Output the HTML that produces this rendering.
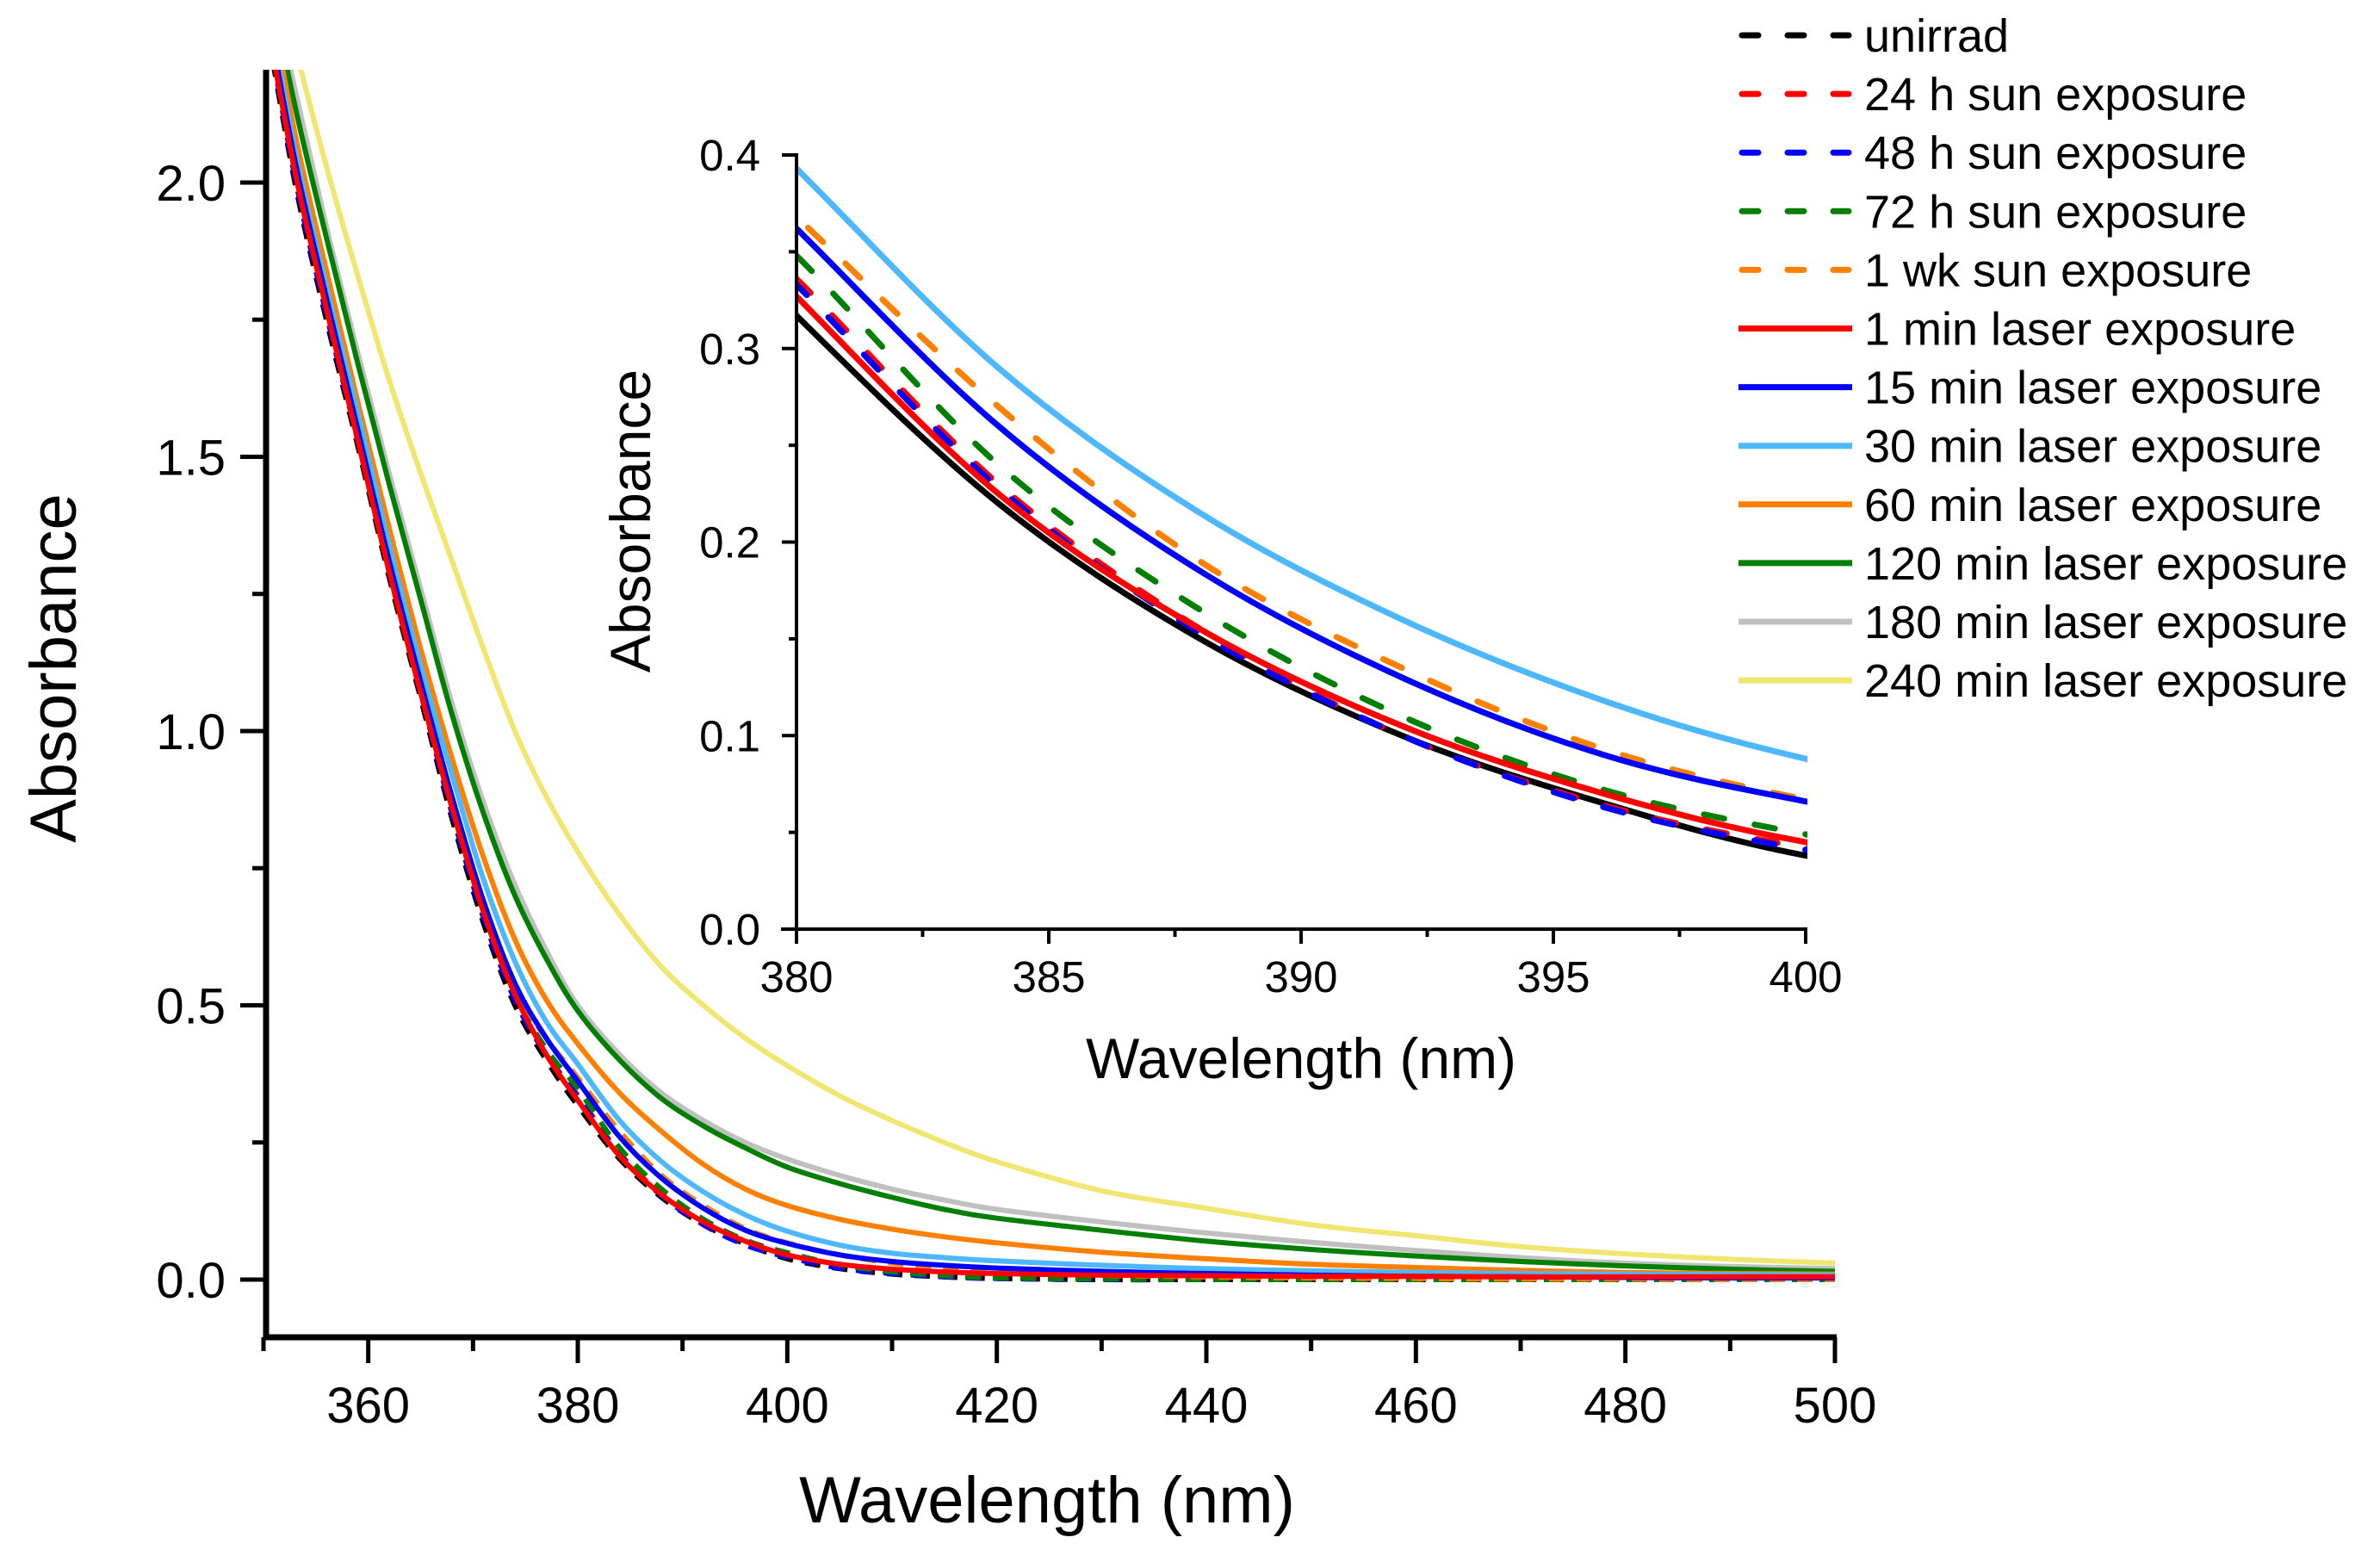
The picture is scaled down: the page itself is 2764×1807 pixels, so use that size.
<!DOCTYPE html>
<html><head><meta charset="utf-8"><style>
html,body{margin:0;padding:0;background:#fff;}
svg{display:block;font-family:"Liberation Sans",Arial,sans-serif;}
</style></head><body>
<svg id="chart" width="2764" height="1807" viewBox="0 0 2764 1807" xmlns="http://www.w3.org/2000/svg">
<defs>
<clipPath id="mainClip"><rect x="309" y="81" width="1823" height="1469"/></clipPath>
<clipPath id="insetClip"><rect x="927" y="150" width="1172" height="927"/></clipPath>
</defs>
<g id="mainAxes"></g>
<g id="mainPlot" clip-path="url(#mainClip)"></g>
<g id="insetAxes"></g>
<g id="insetPlot" clip-path="url(#insetClip)"></g>
<g id="legend"></g>
</svg>
<script>
const wavelengths = [350,353,356,359,362,365,368,371,374,377,380,384,388,392,396,400,405,410,415,420,430,440,450,460,470,480,490,500];
const seriesNames = ["unirrad","24 h sun exposure","48 h sun exposure","72 h sun exposure","1 wk sun exposure","1 min laser exposure","15 min laser exposure","30 min laser exposure","60 min laser exposure","120 min laser exposure","180 min laser exposure","240 min laser exposure"];
const seriesColors = ["#000000","#ff0000","#0000ff","#007f00","#ff8000","#ff0000","#0000ff","#4db8ff","#ff8000","#007f00","#c0c0c0","#f0e670"];
const seriesDashed = [true,true,true,true,true,false,false,false,false,false,false,false];
const seriesInInset = [true,true,true,true,true,true,true,true,false,false,false,false];
const unirrad = [2.32,2.0,1.75,1.52,1.28,1.06,0.84,0.65,0.5,0.4,0.317,0.22,0.15,0.1,0.065,0.038,0.02,0.01,0.005,0.002,0,0,0,0,0,0,0,0];
const sun24h = [2.33,2.02,1.77,1.53,1.29,1.07,0.86,0.67,0.51,0.41,0.336,0.23,0.155,0.1,0.064,0.042,0.022,0.012,0.006,0.003,0.001,0,0,0,0,0,0,0];
const sun48h = [2.33,2.01,1.76,1.53,1.29,1.07,0.85,0.66,0.51,0.41,0.333,0.228,0.153,0.1,0.063,0.041,0.021,0.011,0.005,0.002,0,0,0,0,0,0,0,0];
const sun72h = [2.34,2.03,1.78,1.54,1.30,1.08,0.86,0.67,0.52,0.42,0.348,0.24,0.165,0.11,0.072,0.049,0.027,0.014,0.007,0.003,0.001,0,0,0,0,0,0,0];
const sun1wk = [2.35,2.04,1.79,1.55,1.31,1.09,0.87,0.68,0.53,0.44,0.368,0.27,0.19,0.135,0.093,0.067,0.045,0.03,0.02,0.014,0.008,0.005,0.003,0.002,0.001,0.001,0,0];
const laser1 = [2.33,2.02,1.77,1.53,1.29,1.07,0.86,0.67,0.52,0.41,0.327,0.225,0.155,0.105,0.07,0.045,0.028,0.019,0.014,0.011,0.008,0.007,0.006,0.006,0.005,0.005,0.005,0.005];
const laser15 = [2.35,2.04,1.79,1.55,1.31,1.09,0.88,0.69,0.54,0.44,0.362,0.26,0.185,0.13,0.09,0.066,0.045,0.033,0.026,0.021,0.015,0.011,0.008,0.006,0.005,0.004,0.003,0.003];
const laser30 = [2.37,2.06,1.81,1.58,1.34,1.12,0.92,0.73,0.58,0.47,0.393,0.29,0.215,0.16,0.118,0.088,0.063,0.048,0.04,0.034,0.026,0.02,0.016,0.013,0.011,0.01,0.009,0.008];
const laser60 = [2.4,2.09,1.84,1.6,1.37,1.15,0.95,0.77,0.62,0.51,0.43,0.34,0.27,0.21,0.165,0.135,0.11,0.092,0.078,0.067,0.05,0.038,0.028,0.022,0.017,0.013,0.011,0.01];
const laser120 = [2.42,2.14,1.9,1.67,1.45,1.24,1.03,0.85,0.7,0.585,0.49,0.4,0.33,0.28,0.24,0.205,0.175,0.15,0.128,0.112,0.09,0.07,0.055,0.043,0.033,0.025,0.019,0.015];
const laser180 = [2.44,2.17,1.92,1.69,1.47,1.26,1.05,0.87,0.72,0.6,0.5,0.41,0.34,0.29,0.25,0.22,0.19,0.165,0.145,0.128,0.105,0.085,0.068,0.053,0.04,0.03,0.024,0.02];
const laser240 = [2.5,2.25,2.03,1.83,1.64,1.47,1.31,1.15,1.0,0.88,0.78,0.665,0.57,0.5,0.44,0.39,0.335,0.29,0.25,0.215,0.162,0.13,0.1,0.08,0.06,0.047,0.037,0.03];
const seriesValues = [unirrad,sun24h,sun48h,sun72h,sun1wk,laser1,laser15,laser30,laser60,laser120,laser180,laser240];
const mainXTicks = [360,380,400,420,440,460,480,500];
const mainYTicks = [0.0,0.5,1.0,1.5,2.0];
const insetXTicks = [380,385,390,395,400];
const insetYTicks = [0.0,0.1,0.2,0.3,0.4];

const NS = "http://www.w3.org/2000/svg";
function mk(tag, attrs, parent){const e=document.createElementNS(NS,tag);for(const k in attrs)e.setAttribute(k,attrs[k]);parent.appendChild(e);return e;}

const mx = v => 306 + (v-350)*(2131-306)/150;
const my = v => 1486 - v*637;
const ix = v => 925 + (v-380)*(2097-925)/20;
const iy = v => 1079 - v*(1079-180)/0.4;

function pathFor(xs, ys, sx, sy){
  const pts=[];
  for(let i=0;i<xs.length;i++) pts.push([sx(xs[i]),sy(ys[i])]);
  let d="M"+pts[0][0].toFixed(1)+","+pts[0][1].toFixed(1);
  for(let i=0;i<pts.length-1;i++){
    const p0=pts[Math.max(0,i-1)],p1=pts[i],p2=pts[i+1],p3=pts[Math.min(pts.length-1,i+2)];
    const c1x=p1[0]+(p2[0]-p0[0])/6,c1y=p1[1]+(p2[1]-p0[1])/6;
    const c2x=p2[0]-(p3[0]-p1[0])/6,c2y=p2[1]-(p3[1]-p1[1])/6;
    d+=" C"+c1x.toFixed(1)+","+c1y.toFixed(1)+" "+c2x.toFixed(1)+","+c2y.toFixed(1)+" "+p2[0].toFixed(1)+","+p2[1].toFixed(1);
  }
  return d;
}

const drawOrder=[0,1,2,3,4,11,10,9,8,7,6,5];
const mainPlot=document.getElementById("mainPlot");
const insetPlot=document.getElementById("insetPlot");
for(const i of drawOrder){
  const p=mk("path",{d:pathFor(wavelengths,seriesValues[i],mx,my),fill:"none",stroke:seriesColors[i],"stroke-width":6,"stroke-linejoin":"round"},mainPlot);
  if(seriesDashed[i]){p.setAttribute("stroke-dasharray","18 14");}
  
  
  if(!seriesInInset[i]) continue;
  const q=mk("path",{d:pathFor(wavelengths,seriesValues[i],ix,iy),fill:"none",stroke:seriesColors[i],"stroke-width":7,"stroke-linejoin":"round","stroke-linecap":"round"},insetPlot);
  if(seriesDashed[i] && i!==0){q.setAttribute("stroke-dasharray","24 36");}
  
  
}

const ma=document.getElementById("mainAxes");
const yAxis=mk("line",{x1:309,y1:81,x2:309,y2:1556,stroke:"#000","stroke-width":7},ma);


const xAxis=mk("line",{x1:306,y1:1553,x2:2133,y2:1553,stroke:"#000","stroke-width":7},ma);


for(let v=350;v<=500;v+=10){
  const major=(v%20===0);
  mk("line",{x1:mx(v),y1:1553,x2:mx(v),y2:1553+(major?30:16),stroke:"#000","stroke-width":5},ma);
}
for(const v of mainXTicks){
  const t=mk("text",{x:mx(v),y:1652,"font-size":58,"text-anchor":"middle",fill:"#000"},ma);
  t.textContent=String(v);
  
  
}
for(let k=0;k<=8;k++){
  const v=k*0.25;const major=(k%2===0);
  mk("line",{x1:309,y1:my(v),x2:309-(major?30:16),y2:my(v),stroke:"#000","stroke-width":5},ma);
}
for(const v of mainYTicks){
  const t=mk("text",{x:262,y:my(v)+21,"font-size":58,"text-anchor":"end",fill:"#000"},ma);
  t.textContent=v.toFixed(1);
  
  
}
const mxt=mk("text",{x:1216,y:1768,"font-size":76,"text-anchor":"middle",fill:"#000"},ma);
mxt.textContent="Wavelength (nm)";


const myt=mk("text",{x:0,y:0,"font-size":76,"text-anchor":"middle",fill:"#000",transform:"translate(88,776) rotate(-90)"},ma);
myt.textContent="Absorbance";



const ia=document.getElementById("insetAxes");
const iyAxis=mk("line",{x1:925,y1:178,x2:925,y2:1081,stroke:"#000","stroke-width":4},ia);


const ixAxis=mk("line",{x1:907,y1:1079,x2:2099,y2:1079,stroke:"#000","stroke-width":4},ia);


for(let k=0;k<=8;k++){
  const v=380+k*2.5;const major=(k%2===0);
  mk("line",{x1:ix(v),y1:1079,x2:ix(v),y2:1079+(major?17:9),stroke:"#000","stroke-width":4},ia);
}
for(let k=0;k<=8;k++){
  const v=k*0.05;const major=(k%2===0);
  mk("line",{x1:925,y1:iy(v),x2:925-(major?17:9),y2:iy(v),stroke:"#000","stroke-width":4},ia);
}
for(const v of insetXTicks){
  const t=mk("text",{x:ix(v),y:1152,"font-size":51,"text-anchor":"middle",fill:"#000"},ia);
  t.textContent=String(v);
  
  
}
for(const v of insetYTicks){
  const t=mk("text",{x:883,y:iy(v)+18,"font-size":51,"text-anchor":"end",fill:"#000"},ia);
  t.textContent=v.toFixed(1);
  
  
}
const ixt=mk("text",{x:1511,y:1252,"font-size":66,"text-anchor":"middle",fill:"#000"},ia);
ixt.textContent="Wavelength (nm)";


const iyt=mk("text",{x:0,y:0,"font-size":66,"text-anchor":"middle",fill:"#000",transform:"translate(755,605) rotate(-90)"},ia);
iyt.textContent="Absorbance";



const lg=document.getElementById("legend");
for(let i=0;i<seriesNames.length;i++){
  const cy=41+i*68.1;
  const g=mk("g",{},lg);
  
  
  const l=mk("line",{x1:seriesDashed[i]?2023:2019,y1:cy,x2:seriesDashed[i]?2147:2151,y2:cy,stroke:seriesColors[i],"stroke-width":7,"stroke-linecap":seriesDashed[i]?"round":"butt"},g);
  if(seriesDashed[i]) l.setAttribute("stroke-dasharray","19 34");
  
  
  const t=mk("text",{x:2165,y:cy+19,"font-size":54,fill:"#000"},g);
  t.textContent=seriesNames[i];
  
  
}
</script>
</body></html>
